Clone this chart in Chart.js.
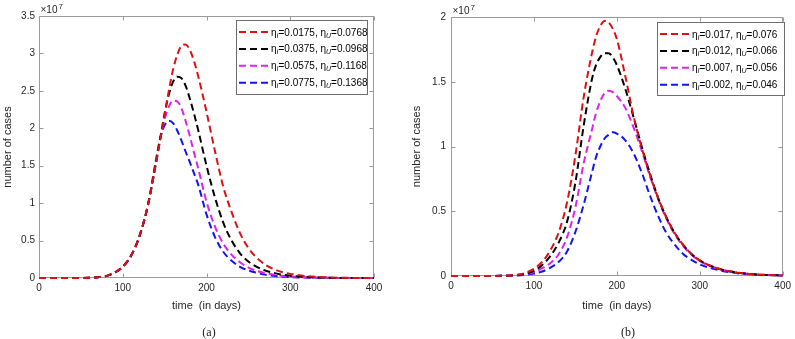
<!DOCTYPE html>
<html>
<head>
<meta charset="utf-8">
<script src="https://cdn.jsdelivr.net/npm/chart.js@4.4.0/dist/chart.umd.min.js"></script>
<style>
  body { margin: 0; background: #fff; width: 795px; height: 339px; overflow: hidden; position: relative; }
  .panel { position: absolute; top: 0; width: 395px; height: 339px; }
  .panel canvas { display: block; }
  .cap { position: absolute; top: 325px; width: 40px; text-align: center; font: 12px "Liberation Serif", "Times New Roman", serif; color: #222; }
</style>
</head>
<body>
<div class="panel" style="left:0"><canvas id="chartA" width="395" height="339"></canvas></div>
<div class="panel" style="left:400px"><canvas id="chartB" width="395" height="339"></canvas></div>
<div class="cap" style="left:189px">(a)</div>
<div class="cap" style="left:608px">(b)</div>

<script>
// ---- data, values in units of 1e7 cases ----

const timeA = [0, 20, 40, 60, 70, 80, 90, 100, 110, 120, 130, 140, 145, 150, 155, 160, 165, 170, 175, 180,
  185, 190, 200, 210, 220, 230, 240, 250, 260, 270, 280, 290, 300, 320, 340, 360, 380, 400];

const redA = [0, 0, 0, 0.003, 0.01, 0.025, 0.07, 0.15, 0.3, 0.56, 0.97, 1.55, 1.86, 2.18, 2.5, 2.78, 2.98, 3.1, 3.12, 3.05,
  2.9, 2.7, 2.22, 1.7, 1.22, 0.88, 0.6, 0.4, 0.27, 0.18, 0.12, 0.08, 0.055, 0.024, 0.01, 0.004, 0.001, 0];
const blackA = [0, 0, 0, 0.003, 0.01, 0.025, 0.07, 0.15, 0.3, 0.56, 0.97, 1.56, 1.88, 2.2, 2.45, 2.62, 2.69, 2.67, 2.57, 2.4,
  2.2, 1.98, 1.5, 1.08, 0.74, 0.5, 0.33, 0.22, 0.15, 0.1, 0.07, 0.045, 0.03, 0.012, 0.004, 0.001, 0, 0];
const magentaA = [0, 0, 0, 0.003, 0.01, 0.025, 0.07, 0.15, 0.3, 0.56, 0.97, 1.58, 1.88, 2.12, 2.29, 2.37, 2.36, 2.27, 2.1, 1.9,
  1.68, 1.47, 1.02, 0.69, 0.46, 0.31, 0.21, 0.14, 0.095, 0.065, 0.045, 0.03, 0.02, 0.008, 0.003, 0.001, 0, 0];
const blueA = [0, 0, 0, 0.003, 0.01, 0.025, 0.07, 0.15, 0.3, 0.56, 0.97, 1.6, 1.88, 2.04, 2.1, 2.07, 1.97, 1.84, 1.69, 1.55,
  1.4, 1.25, 0.85, 0.55, 0.35, 0.23, 0.15, 0.1, 0.07, 0.045, 0.03, 0.02, 0.012, 0.005, 0.002, 0.001, 0, 0];

const timeB = [0, 20, 40, 60, 80, 90, 100, 110, 120, 130, 140, 150, 160, 170, 175, 180, 185, 190, 195, 200,
  210, 220, 230, 240, 250, 260, 270, 280, 290, 300, 320, 340, 360, 380, 400];

const redB = [0, 0, 0, 0.002, 0.01, 0.025, 0.055, 0.11, 0.2, 0.34, 0.57, 0.93, 1.38, 1.72, 1.85, 1.93, 1.97, 1.96, 1.91, 1.83,
  1.55, 1.24, 0.99, 0.78, 0.6, 0.45, 0.33, 0.24, 0.17, 0.12, 0.062, 0.032, 0.016, 0.008, 0.004];
const blackB = [0, 0, 0, 0.001, 0.008, 0.018, 0.04, 0.085, 0.155, 0.26, 0.42, 0.72, 1.16, 1.52, 1.63, 1.69, 1.72, 1.72, 1.69, 1.63,
  1.45, 1.23, 1.0, 0.79, 0.6, 0.45, 0.33, 0.24, 0.17, 0.12, 0.062, 0.032, 0.016, 0.008, 0.004];
const magentaB = [0, 0, 0, 0.001, 0.006, 0.014, 0.03, 0.06, 0.1, 0.17, 0.3, 0.53, 0.87, 1.13, 1.26, 1.35, 1.41, 1.43, 1.42, 1.39,
  1.3, 1.15, 0.97, 0.77, 0.59, 0.44, 0.32, 0.23, 0.165, 0.115, 0.06, 0.031, 0.016, 0.008, 0.004];
const blueB = [0, 0, 0, 0.001, 0.004, 0.01, 0.02, 0.035, 0.065, 0.11, 0.19, 0.34, 0.55, 0.8, 0.92, 1.0, 1.06, 1.09, 1.11, 1.1,
  1.05, 0.95, 0.8, 0.62, 0.46, 0.33, 0.24, 0.17, 0.125, 0.09, 0.05, 0.026, 0.013, 0.007, 0.004];

// legend parameter values
const etaIA = ['0.0175', '0.0375', '0.0575', '0.0775'];
const etaUA = ['0.0768', '0.0968', '0.1168', '0.1368'];
const etaIB = ['0.017', '0.012', '0.007', '0.002'];
const etaUB = ['0.076', '0.066', '0.056', '0.046'];

const xTicks = [0, 100, 200, 300, 400];

const colors = ['#dd1111', '#000000', '#dd22ee', '#1414ee'];
const FONT = '"Liberation Sans", Arial, Helvetica, sans-serif';
const DASH = [7, 4];

// ---- frame + inward ticks (under the curves), x10^7 and legend (on top) ----

function framePlugin(leg, etaI, etaU) {
  return {
    id: 'frame',
    beforeDatasetsDraw(chart) {
      const { ctx, chartArea: a, scales } = chart;
      const L = Math.round(a.left) + 0.5, R = Math.round(a.right) - 0.5;
      const T = Math.round(a.top) + 0.5, B = Math.round(a.bottom) - 0.5;
      ctx.save();
      ctx.strokeStyle = '#9a9a9a';
      ctx.lineWidth = 1;
      ctx.strokeRect(L, T, R - L, B - T);
      ctx.beginPath();
      scales.x.ticks.forEach(t => {
        const px = Math.round(scales.x.getPixelForValue(t.value)) + 0.5;
        ctx.moveTo(px, B); ctx.lineTo(px, B - 4);
        ctx.moveTo(px, T); ctx.lineTo(px, T + 4);
      });
      scales.y.ticks.forEach(t => {
        const py = Math.round(scales.y.getPixelForValue(t.value)) + 0.5;
        ctx.moveTo(L, py); ctx.lineTo(L + 4, py);
        ctx.moveTo(R, py); ctx.lineTo(R - 4, py);
      });
      ctx.stroke();

      // exponent
      ctx.fillStyle = '#262626';
      ctx.textBaseline = 'alphabetic';
      ctx.font = '10px ' + FONT;
      ctx.fillText('\u00d710', L + 1, T - 4);
      const w = ctx.measureText('\u00d710').width;
      ctx.font = '8px ' + FONT;
      ctx.fillText('7', L + 2 + w, T - 8);
      ctx.restore();
    },
    afterDraw(chart) {
      const ctx = chart.ctx;
      ctx.save();
      ctx.fillStyle = '#fff';
      ctx.fillRect(leg.x, leg.y, leg.w, leg.h);
      ctx.strokeStyle = '#6e6e6e';
      ctx.lineWidth = 1;
      ctx.strokeRect(leg.x + 0.5, leg.y + 0.5, leg.w, leg.h);
      for (let i = 0; i < etaI.length; i++) {
        const y = leg.y + 12 + i * 16.9;
        ctx.strokeStyle = colors[i];
        ctx.lineWidth = 2;
        ctx.setLineDash(DASH);
        ctx.beginPath();
        ctx.moveTo(leg.x + 3, y);
        ctx.lineTo(leg.x + 34, y);
        ctx.stroke();
        ctx.setLineDash([]);
        let x = leg.x + 35;
        const base = y + 3.5;
        ctx.fillStyle = '#000';
        ctx.textBaseline = 'alphabetic';
        const parts = [['\u03b7', 10, 0], ['I', 7, 2], ['=' + etaI[i] + ', ', 10, 0], ['\u03b7', 10, 0], ['U', 7, 2], ['=' + etaU[i], 10, 0]];
        parts.forEach(([txt, size, dy]) => {
          ctx.font = (size === 7 ? 'italic ' : '') + size + 'px ' + FONT;
          ctx.fillText(txt, x, base + dy);
          x += ctx.measureText(txt).width;
        });
      }
      ctx.restore();
    }
  };
}

function buildChart(id, cfg) {
  const series = cfg.series.map((vals, i) => ({
    data: vals.map((v, k) => ({ x: cfg.time[k], y: v })),
    borderColor: colors[i],
    borderWidth: 2,
    borderDash: DASH,
    pointRadius: 0,
    fill: false,
    clip: 3,
    cubicInterpolationMode: 'monotone'
  }));
  // blue drawn last, on top (as in the figure)
  return new Chart(document.getElementById(id), {
    type: 'line',
    data: { datasets: series },
    options: {
      responsive: false,
      animation: false,
      layout: { padding: cfg.padding },
      plugins: { legend: { display: false }, tooltip: { enabled: false } },
      scales: {
        x: {
          type: 'linear', min: 0, max: 400,
          grid: { display: false, drawTicks: false },
          border: { display: false },
          afterBuildTicks: s => { s.ticks = xTicks.map(v => ({ value: v })); },
          ticks: { padding: 4, color: '#262626', font: { size: 10, family: FONT }, maxRotation: 0 },
          title: { display: true, text: 'time  (in days)', color: '#262626', font: { size: 11, family: FONT }, padding: { top: 0, bottom: 4 } },
          afterFit: s => { s.height = cfg.xHeight; }
        },
        y: {
          min: 0, max: cfg.yMax,
          grid: { display: false, drawTicks: false },
          border: { display: false },
          ticks: {
            stepSize: 0.5, padding: cfg.yPad, color: '#262626', font: { size: 10, family: FONT },
            callback: v => String(Math.round(v * 10) / 10)
          },
          title: { display: true, text: 'number of cases', color: '#262626', font: { size: 11, family: FONT }, padding: { top: cfg.titleX, bottom: 0 } },
          afterFit: s => { s.width = cfg.yWidth; }
        }
      }
    },
    plugins: [framePlugin(cfg.legend, cfg.etaI, cfg.etaU)]
  });
}

buildChart('chartA', {
  time: timeA,
  series: [redA, blackA, magentaA, blueA],
  yMax: 3.5,
  padding: { left: 0, right: 21, top: 16, bottom: 22 },
  xHeight: 39, yWidth: 39, yPad: 4, titleX: 1.4,
  legend: { x: 236, y: 20, w: 131, h: 74 },
  etaI: etaIA, etaU: etaUA
});

buildChart('chartB', {
  time: timeB,
  series: [redB, blackB, magentaB, blueB],
  yMax: 2,
  padding: { left: 0, right: 9, top: 17, bottom: 22 },
  xHeight: 41, yWidth: 51, yPad: 5, titleX: 10.4,
  legend: { x: 257, y: 22, w: 127, h: 73 },
  etaI: etaIB, etaU: etaUB
});
</script>
</body>
</html>
